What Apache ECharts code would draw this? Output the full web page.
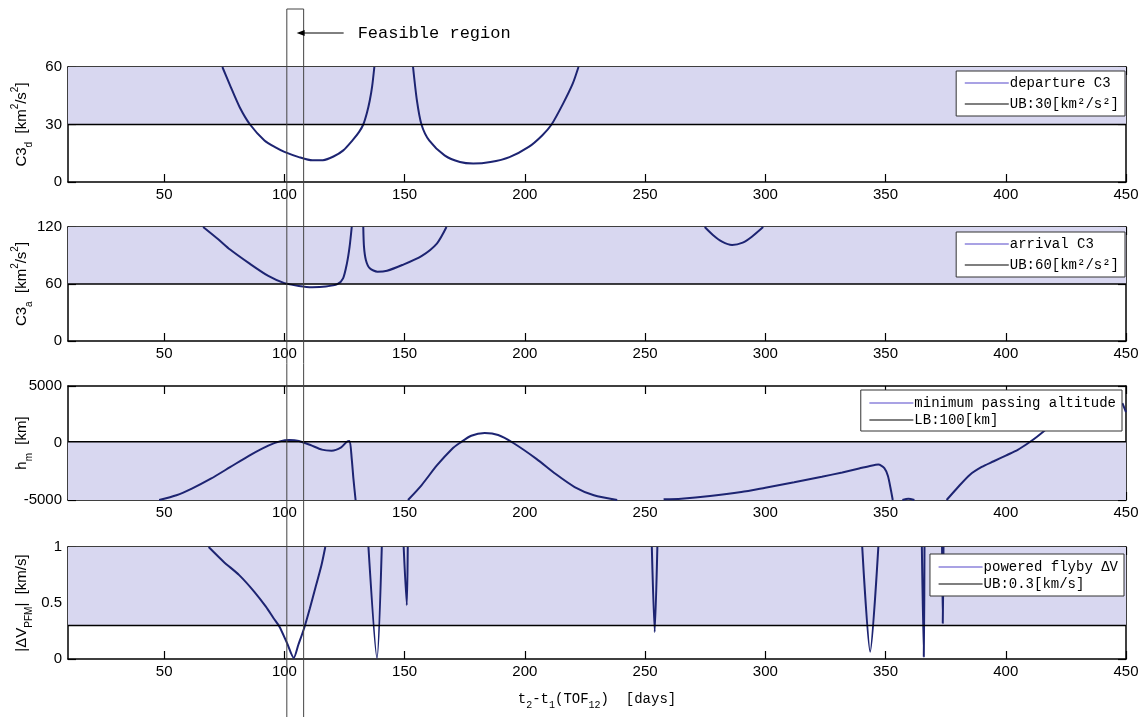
<!DOCTYPE html>
<html><head><meta charset="utf-8">
<script src="https://cdn.jsdelivr.net/npm/echarts@6/dist/echarts.min.js"></script>
<style>html,body{margin:0;padding:0;background:#fff}#c{width:1146px;height:717px}</style>
</head><body><div id="c"></div>
<script>
// ---------- data ----------
const xTicks = [50, 100, 150, 200, 250, 300, 350, 400, 450];
const xRange = [10, 450];
const feasibleRange = [101, 108];

// panel 1: departure C3
const c3dTicks = [0, 30, 60];
const c3dUB = 30;
const c3dCurveA = [[74.2,60],[77.4,50.4],[81.4,39],[85.7,30],[91.7,21.7],[96.5,17.9],[100,15.7],[106,13],[111.6,11.3],[116,11.4],[120.4,13.3],[124.5,16.5],[128.3,21.7],[131,26],[132.8,30],[134.3,36],[135.5,42.5],[136.5,50],[137.4,60]];
const c3dCurveB = [[153.5,60],[155.1,42.6],[157,30],[160.2,21.7],[166.6,13.9],[173,10.4],[178.5,9.6],[185.7,10.4],[193.6,13],[201.6,18.3],[207.2,24.3],[211.1,30],[215.9,40.9],[219.9,51.3],[222.3,60]];

// panel 2: arrival C3
const c3aTicks = [0, 60, 120];
const c3aUB = 60;
const c3aCurveA = [[66.2,120],[72.6,106.8],[77.4,96.3],[85.4,81.7],[93.3,68.5],[100,60.9],[106,58],[111.6,56.7],[117.2,57.4],[122,59.8],[124.4,66],[126,81.7],[127.1,99],[128,120]];
const c3aCurveB = [[132.8,120],[133.1,99],[133.9,85],[135.5,76.5],[138.7,73],[142.7,74],[149,80],[157,89.4],[163.4,102.6],[167.4,120]];
const c3aCurveC = [[274.8,120],[278.2,111.6],[282,104.5],[286.2,101],[290.6,103.5],[294.4,109.8],[299.1,120]];

// panel 3: minimum passing altitude
const hmTicks = [-5000, 0, 5000];
const hmLB = 100;
const hmCurveA = [[47.9,-5000],[55.1,-4580],[61.5,-4000],[69.4,-3130],[77.4,-2120],[85.4,-1100],[93.3,-230],[98.1,145],[102.1,260],[106,175],[110.8,-175],[115.6,-580],[119.6,-670],[123.6,-380],[126,115],[127.1,175],[128,-1390],[128.7,-3130],[129.6,-5000]];
const hmCurveB = [[151.4,-5000],[157,-3710],[163.4,-1970],[169.7,-520],[172.9,0],[177.7,640],[183.3,870],[188.9,700],[195.2,0],[204.8,-1390],[212.7,-2700],[220.7,-3860],[228.7,-4580],[238.4,-5000]];
const hmCurveC = [[257.7,-4940],[265,-4880],[277,-4650],[290,-4300],[300,-3920],[312,-3450],[323.5,-2965],[332,-2580],[339,-2240],[344,-1990],[347,-1890],[349.5,-2200],[351,-2900],[352.2,-4100],[353,-5000]];
const hmCurveD = [[357,-5000],[359.5,-4880],[362,-5000]];
const hmCurveE = [[375.4,-5000],[380,-3900],[385,-2800],[390,-2100],[395,-1600],[400,-1100],[405,-600],[409.4,0],[413,550],[417.1,1250]];
const hmCurveF = [[448.5,3500],[450,2700]];

// panel 4: powered flyby dV
const dvTicks = [0, 0.5, 1];
const dvUB = 0.3;
const dvCurveA = [[68.5,1],[74.8,0.867],[81.2,0.749],[87.5,0.6],[92.3,0.467],[95.5,0.364],[97.9,0.29],[101.1,0.142],[103.9,0.01],[105.8,0.127],[108.2,0.275],[110.6,0.453],[113,0.645],[115.4,0.837],[117,1]];
const dvCurveB = [[134.95,1],[138.5,0.01],[140.5,1]];
const dvCurveC = [[149.6,1],[150.9,0.48],[151.3,1]];
const dvCurveD = [[252.8,1],[254,0.24],[255.1,1]];
const dvCurveE = [[340.3,1],[343.6,0.065],[347,1]];
const dvCurveF = [[365.1,1],[365.9,0.02],[366.2,1]];
const dvCurveG = [[373.5,1],[373.8,0.32],[374.1,1]];

// legend / axis texts
const panelNames = ['departure C3', 'arrival C3', 'minimum passing altitude', 'powered flyby ΔV'];
const boundNames = ['UB:30[km²/s²]', 'UB:60[km²/s²]', 'LB:100[km]', 'UB:0.3[km/s]'];
const yNames = [
  '{n|C3}{s|d}{n|  [km}{p|2}{n|/s}{p|2}{n|]}',
  '{n|C3}{s|a}{n|  [km}{p|2}{n|/s}{p|2}{n|]}',
  '{n|h}{s|m}{n|  [km]}',
  '{n||ΔV}{s|PFM}{n||  [km/s]}'
];
const xName = '{m|t}{ms|2}{m|-t}{ms|1}{m|(TOF}{ms|12}{m|)  [days]}';
const feasibleLabel = 'Feasible region';

// ---------- layout ----------
const panels = [
  { ticks: c3dTicks, bound: c3dUB, upper: true, curves: [c3dCurveA, c3dCurveB], top: 67, height: 115,
    legend: { top: 71, right: 21, gap: 7, pad: [5, 6, 5, 8] } },
  { ticks: c3aTicks, bound: c3aUB, upper: true, curves: [c3aCurveA, c3aCurveB, c3aCurveC], top: 227, height: 114,
    legend: { top: 232, right: 21, gap: 7, pad: [5, 6, 5, 8] } },
  { ticks: hmTicks, bound: hmLB, upper: false, curves: [hmCurveA, hmCurveB, hmCurveC, hmCurveD, hmCurveE, hmCurveF], top: 386, height: 114,
    legend: { top: 390, right: 24, gap: 3, pad: [6, 6, 4, 8] } },
  { ticks: dvTicks, bound: dvUB, upper: true, curves: [dvCurveA, dvCurveB, dvCurveC, dvCurveD, dvCurveE, dvCurveF, dvCurveG], top: 547, height: 112,
    legend: { top: 554, right: 22, gap: 3, pad: [6, 6, 5, 8] } }
];

const NUM_FONT = 'Liberation Sans';
const MONO_FONT = 'Liberation Mono';
const CURVE = '#1d2472';
const SHADE = '#d8d7f0';

const grid = [], xAxis = [], yAxis = [], series = [], legend = [];
panels.forEach((p, i) => {
  grid.push({ left: 68, right: 20, top: p.top, height: p.height, containLabel: false, outerBoundsMode: 'none' });
  const ymin = p.ticks[0], ymax = p.ticks[p.ticks.length - 1];
  const yint = p.ticks[1] - p.ticks[0];
  const isLast = i === panels.length - 1;
  xAxis.push({
    type: 'value', gridIndex: i, min: xRange[0], max: xRange[1], position: 'bottom',
    axisLine: { onZero: false, lineStyle: { color: '#000', width: 1.5 } },
    axisTick: { inside: true, length: 8, customValues: xTicks, lineStyle: { color: '#000', width: 1.2 } },
    axisLabel: { customValues: xTicks, color: '#000', fontFamily: NUM_FONT, fontSize: 15, margin: 5, showMinLabel: true, showMaxLabel: true },
    splitLine: { show: false },
    name: isLast ? xName : '', nameLocation: 'middle', nameGap: 29, nameMoveOverlap: false,
    nameTextStyle: { rich: {
      m: { fontFamily: MONO_FONT, fontSize: 14, color: '#000', lineHeight: 22 },
      ms: { fontFamily: MONO_FONT, fontSize: 10, color: '#000', lineHeight: 12, verticalAlign: 'bottom' }
    } }
  });
  yAxis.push({
    type: 'value', gridIndex: i, min: ymin, max: ymax, interval: yint, position: 'left',
    axisLine: { show: true, onZero: false, lineStyle: { color: '#000', width: 1.5 } },
    axisTick: { show: true, inside: true, length: 8, lineStyle: { color: '#000', width: 1.2 } },
    axisLabel: { color: '#000', fontFamily: NUM_FONT, fontSize: 15, margin: 6, formatter: v => String(v) },
    splitLine: { show: false },
    name: yNames[i], nameLocation: 'middle', nameRotate: 90, nameGap: 34, nameMoveOverlap: false,
    nameTextStyle: { rich: {
      n: { fontFamily: NUM_FONT, fontSize: 15, color: '#000', lineHeight: 24 },
      s: { fontFamily: NUM_FONT, fontSize: 10, color: '#000', lineHeight: 13, verticalAlign: 'bottom' },
      p: { fontFamily: NUM_FONT, fontSize: 10, color: '#000', lineHeight: 13, verticalAlign: 'top' }
    } }
  });
  // shading of the infeasible band
  series.push({
    type: 'line', xAxisIndex: i, yAxisIndex: i, data: [[xRange[0], p.bound]], symbol: 'none',
    lineStyle: { opacity: 0 }, silent: true, z: 1, animation: false,
    markArea: { silent: true, itemStyle: { color: SHADE }, data: [[{ yAxis: p.bound }, { yAxis: p.upper ? ymax : ymin }]] }
  });
  p.curves.forEach(c => series.push({
    type: 'line', name: panelNames[i], xAxisIndex: i, yAxisIndex: i, data: c,
    symbol: 'none', showSymbol: false, smooth: 0.25, itemStyle: { color: CURVE },
    lineStyle: { color: CURVE, width: 2 }, z: 3, animation: false
  }));
  series.push({
    type: 'line', name: boundNames[i], xAxisIndex: i, yAxisIndex: i, data: [[xRange[0], p.bound], [xRange[1], p.bound]],
    symbol: 'none', showSymbol: false, itemStyle: { color: '#000' }, lineStyle: { color: '#000', width: 1.5 }, z: 4, animation: false
  });
  legend.push({
    orient: 'vertical', right: p.legend.right, top: p.legend.top, z: 10,
    data: [
      { name: panelNames[i], itemStyle: { opacity: 0 }, lineStyle: { color: '#5447c9', width: 1.2 } },
      { name: boundNames[i], itemStyle: { opacity: 0 }, lineStyle: { color: '#000', width: 1.2 } }
    ],
    backgroundColor: '#fff', borderColor: '#333', borderWidth: 1, borderRadius: 0,
    padding: p.legend.pad, itemGap: p.legend.gap, itemWidth: 44, itemHeight: 12,
    selectedMode: false,
    textStyle: { fontFamily: MONO_FONT, fontSize: 14, color: '#000', padding: [0, 0, 0, -4] }
  });
});
// mirror axes (top / right) with inward ticks
panels.forEach((p, i) => {
  xAxis.push({
    type: 'value', gridIndex: i, min: xRange[0], max: xRange[1], position: 'top',
    axisLine: { onZero: false, lineStyle: { color: '#000', width: 1.5 } },
    axisTick: { inside: true, length: 8, customValues: xTicks, lineStyle: { color: '#000', width: 1.2 } },
    axisLabel: { show: false }, splitLine: { show: false }
  });
  yAxis.push({
    type: 'value', gridIndex: i, min: p.ticks[0], max: p.ticks[p.ticks.length - 1], interval: p.ticks[1] - p.ticks[0], position: 'right',
    axisLine: { show: true, onZero: false, lineStyle: { color: '#000', width: 1.5 } },
    axisTick: { show: true, inside: true, length: 8, lineStyle: { color: '#000', width: 1.2 } },
    axisLabel: { show: false }, splitLine: { show: false }
  });
});

const chart = echarts.init(document.getElementById('c'), null, { renderer: 'canvas' });
chart.setOption({ animation: false, backgroundColor: '#fff', grid, xAxis, yAxis, series, legend });

// feasible-region annotation, positioned through the axis scale
const xl = chart.convertToPixel({ xAxisIndex: 0 }, feasibleRange[0]);
const xr = chart.convertToPixel({ xAxisIndex: 0 }, feasibleRange[1]);
const ay = 33;
chart.setOption({ graphic: [
  { type: 'rect', z: 100, silent: true, shape: { x: xl, y: 9, width: xr - xl, height: 720 },
    style: { fill: 'none', stroke: '#444', lineWidth: 1 } },
  { type: 'line', z: 100, silent: true, shape: { x1: xr + 40, y1: ay, x2: xr - 4, y2: ay },
    style: { stroke: '#000', lineWidth: 1 } },
  { type: 'polygon', z: 100, silent: true, shape: { points: [[xr - 7, ay], [xr + 1, ay - 3], [xr + 1, ay + 3]] },
    style: { fill: '#000' } },
  { type: 'text', z: 100, silent: true, x: xr + 54, y: ay,
    style: { text: feasibleLabel, fontFamily: MONO_FONT, fontSize: 17, fill: '#000', verticalAlign: 'middle' } }
] });
</script>
</body></html>
